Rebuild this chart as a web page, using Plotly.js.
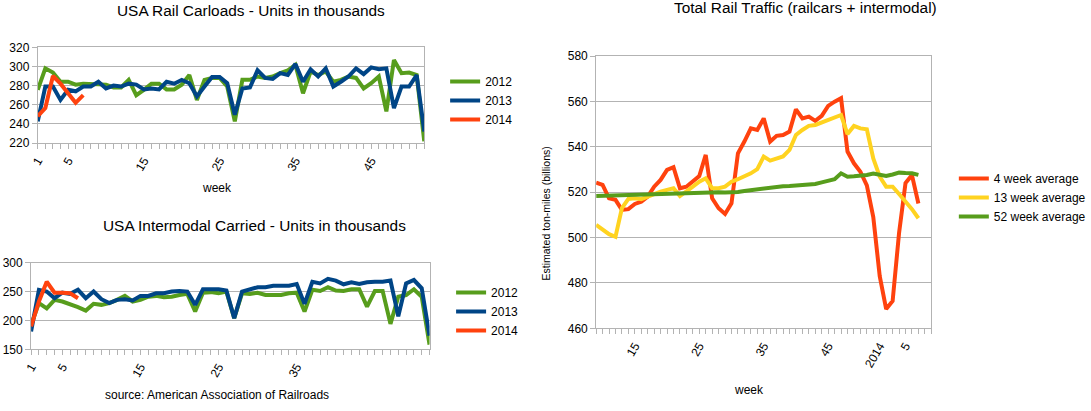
<!DOCTYPE html>
<html><head><meta charset="utf-8">
<script src="https://cdn.plot.ly/plotly-3.0.1.min.js"></script>
<style>html,body{margin:0;padding:0;background:#fff}#chart{width:1091px;height:411px}</style>
</head><body><div id="chart"></div>
<script>
// ---------- data ----------
const weeks = Array.from({length: 52}, (_, i) => i + 1);
const leftTickLabelsTop = ["1", "5", "15", "25", "35", "45"];
const leftTickLabelsBottom = ["1", "5", "15", "25", "35"];

const carloads2012 = [275.6, 298, 293.6, 284, 284, 281, 282, 282, 282, 281, 278, 278, 286, 270, 275.6, 282, 282, 276, 276, 281, 291, 265, 286, 288, 288, 279, 242.6, 286, 286, 289.5, 288, 289.5, 293, 296, 301.6, 272, 294.7, 291, 294.7, 284, 286, 289.5, 288, 277, 282.5, 289.5, 253, 306.8, 293, 293.6, 291, 221.8];
const carloads2013 = [242.6, 279, 279, 265, 275.6, 274, 279, 279, 284, 277, 280, 279, 282, 281, 276, 277, 276, 284, 282, 286, 282.5, 268.6, 279, 289, 289, 282.5, 249.5, 277, 278, 296, 288, 287, 293, 291, 302.6, 284, 297, 289.5, 298, 279, 284, 289.5, 298, 292, 299, 297, 298, 256.5, 279, 279, 291, 232];
const carloads2014 = [248, 256.5, 290, 282, 272, 262, 270];

const intermodal2012 = [192.5, 230, 221, 235.6, 232.8, 228.7, 223, 217, 228.7, 227, 230, 235.6, 242.5, 232.8, 235.6, 241, 242.5, 240, 241, 244, 246, 215.5, 248, 249, 247, 250, 204, 247, 246, 248, 244, 244, 244, 247, 248, 215.5, 253, 251, 257.5, 251.7, 251, 254, 254, 224, 251, 251, 194, 241, 244, 254, 241, 158];
const intermodal2013 = [181, 253, 250, 238.5, 248, 246, 253, 238.5, 250, 236.8, 230, 235.6, 236.8, 234.5, 242.5, 242.5, 247, 247, 250, 251, 250, 227, 254, 254, 254, 251.7, 204, 250, 254, 257.5, 257.5, 260, 260, 260, 263, 228.7, 267, 264, 272, 269, 262.6, 266, 263, 266, 267, 267, 269, 207, 264, 270, 255.7, 173.6];
const intermodal2014 = [189.7, 232.8, 267, 248, 248, 247, 238.5];

// Total rail traffic: 2013 week 9 .. 2014 week 9 (data to 2014 week 7)
const trafficWeeks = ["9","10","11","12","13","14","15","16","17","18","19","20","21","22","23","24","25","26","27","28","29","30","31","32","33","34","35","36","37","38","39","40","41","42","43","44","45","46","47","48","49","50","51","52","2014","2","3","4","5","6","7","8","9b"];
const trafficTickLabels = ["15", "25", "35", "45", "2014", "5"];
const avg4 = [524.2, 523.2, 517.3, 516.6, 512.2, 512.5, 514.8, 515.8, 518, 522.4, 525.4, 529.8, 531, 521.7, 522.4, 524.6, 527.1, 536.4, 517.3, 512.9, 510.4, 515.1, 537.1, 542.3, 548.1, 547.4, 552.5, 542.3, 544.8, 545.2, 546.7, 556.5, 552.5, 553.3, 551.4, 553.6, 558, 559.9, 561.4, 537.9, 532.7, 529, 523, 509, 483, 468.5, 472, 502, 524, 527.5, 515];
const avg13 = [505.6, 503.5, 501.5, 500.3, 513, 517, 517.3, 516.9, 518, 519.5, 520.2, 521, 521.7, 518.3, 520.2, 522.4, 524.6, 526.1, 521.7, 521.7, 522.4, 524.6, 525.7, 526.8, 528.3, 530.1, 535.7, 533.9, 535, 535.7, 538.6, 545.2, 547.4, 549.2, 549.6, 550.6, 551.8, 552.8, 554, 545.6, 549.2, 548.1, 547.7, 534.9, 526.8, 522.4, 522.4, 519.2, 516, 512.5, 508.5];
const avg52 = [518.3, 518.4, 518.5, 518.6, 518.6, 518.7, 518.8, 518.9, 519, 519.1, 519.2, 519.4, 519.5, 519.6, 519.7, 519.8, 520, 520.2, 520.1, 520, 519.9, 519.8, 520.1, 520.5, 520.9, 521.3, 521.7, 522, 522.3, 522.6, 522.7, 522.9, 523.1, 523.4, 523.6, 524.3, 525, 525.7, 528.3, 526.8, 527, 527.1, 527.6, 528.2, 527.6, 527.1, 527.8, 528.6, 528.4, 528.3, 527.6];

// ---------- styling ----------
const W = 1091, H = 411;
const GREEN = '#579d1c', BLUE = '#004586', RED = '#ff420e', YELLOW = '#ffd320';
const GRID = '#b3b3b3';
const FONT = 'Liberation Sans, Arial, sans-serif';
const px = v => v / W, py = v => 1 - v / H;

const idx = arr => arr.map((_, i) => i);

function line(x, y, name, color, xa, ya, legend) {
  return {x, y, name, type: 'scatter', mode: 'lines', xaxis: xa, yaxis: ya, legend,
          line: {color, width: 4, shape: 'linear'}, hoverinfo: 'skip'};
}

const traces = [
  line(weeks, carloads2012, '2012', GREEN, 'x', 'y', 'legend'),
  line(weeks, carloads2013, '2013', BLUE, 'x', 'y', 'legend'),
  line(weeks.slice(0, carloads2014.length), carloads2014, '2014', RED, 'x', 'y', 'legend'),
  line(weeks, intermodal2012, '2012', GREEN, 'x2', 'y2', 'legend2'),
  line(weeks, intermodal2013, '2013', BLUE, 'x2', 'y2', 'legend2'),
  line(weeks.slice(0, intermodal2014.length), intermodal2014, '2014', RED, 'x2', 'y2', 'legend2'),
  line(idx(avg4), avg4, '4 week average', RED, 'x3', 'y3', 'legend3'),
  line(idx(avg13), avg13, '13 week average', YELLOW, 'x3', 'y3', 'legend3'),
  line(idx(avg52), avg52, '52 week average', GREEN, 'x3', 'y3', 'legend3'),
];

function xax(domain, anchor, range, tickvals, ticktext) {
  return {domain, anchor, range, tickmode: 'array', tickvals, ticktext, tickangle: -60,
    ticks: 'outside', ticklen: 5, tickcolor: GRID, tickwidth: 1,
    minor: {dtick: 1, tick0: range[0], ticks: 'outside', ticklen: 5, tickcolor: GRID, tickwidth: 1, showgrid: false},
    showgrid: false, zeroline: false, showline: true, linecolor: GRID, linewidth: 1, mirror: true,
    tickfont: {family: FONT, size: 12, color: '#000'}, fixedrange: true};
}
function yax(domain, anchor, range, dtick) {
  return {domain, anchor, range, dtick, tick0: range[0], showgrid: true, gridcolor: GRID, gridwidth: 1,
    ticks: 'outside', ticklen: 5, tickcolor: GRID, zeroline: false, showline: true, linecolor: GRID,
    linewidth: 1, mirror: true, tickfont: {family: FONT, size: 12, color: '#000'}, fixedrange: true};
}

const legendBase = {font: {family: FONT, size: 12, color: '#000'}, bgcolor: 'rgba(0,0,0,0)',
  borderwidth: 0, xanchor: 'left', yanchor: 'top', itemwidth: 30, tracegroupgap: 0};

const trafficTickVals = trafficTickLabels.map(l => trafficWeeks.indexOf(l));

const layout = {
  width: W, height: H, margin: {l: 0, r: 0, t: 0, b: 0}, paper_bgcolor: '#fff', plot_bgcolor: '#fff',
  font: {family: FONT, color: '#000'}, showlegend: true,
  xaxis: xax([px(38), px(427)], 'y', [1, 52], leftTickLabelsTop.map(Number), leftTickLabelsTop),
  yaxis: yax([py(143), py(47.3)], 'x', [220, 320], 20),
  xaxis2: xax([px(31.3), px(432.3)], 'y2', [1, 52], leftTickLabelsBottom.map(Number), leftTickLabelsBottom),
  yaxis2: yax([py(349.3), py(262.7)], 'x2', [150, 300], 50),
  xaxis3: xax([px(600), px(937.3)], 'y3', [0, trafficWeeks.length - 1], trafficTickVals, trafficTickLabels),
  yaxis3: yax([py(328.3), py(56)], 'x3', [460, 580], 20),
  legend: Object.assign({}, legendBase, {x: px(448), y: py(67)}),
  legend2: Object.assign({}, legendBase, {x: px(454), y: py(278)}),
  legend3: Object.assign({}, legendBase, {x: px(960), y: py(164)}),
  annotations: [
    {text: 'USA Rail Carloads - Units in thousands', x: px(253), y: py(11), size: 15.4},
    {text: 'week', x: px(218), y: py(188), size: 12},
    {text: 'USA Intermodal Carried - Units in thousands', x: px(256), y: py(225), size: 15.4},
    {text: 'source: American Association of Railroads', x: px(218), y: py(395), size: 12},
    {text: 'Total Rail Traffic (railcars + intermodal)', x: px(811), y: py(8), size: 15.4},
    {text: 'week', x: px(754), y: py(390), size: 12},
    {text: 'Estimated ton-miles (billions)', x: px(550), y: py(213), size: 10.5, textangle: -90},
  ].map(a => ({text: a.text, x: a.x, y: a.y, xref: 'paper', yref: 'paper', xanchor: 'center',
    yanchor: 'middle', showarrow: false, textangle: a.textangle || 0,
    font: {family: FONT, size: a.size, color: '#000'}})),
};

Plotly.newPlot('chart', traces, layout, {staticPlot: true, displayModeBar: false});
</script></body></html>
